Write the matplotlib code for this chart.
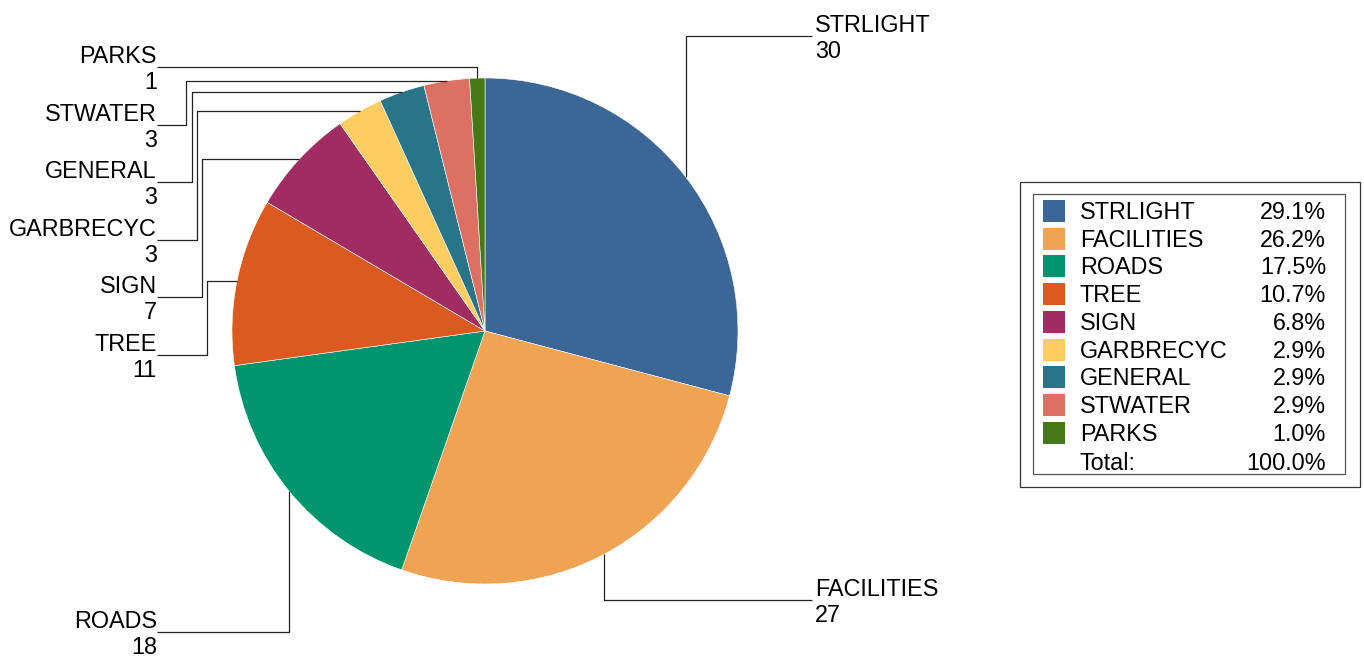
import numpy as np
import matplotlib
matplotlib.use("Agg")
import matplotlib.pyplot as plt
from matplotlib.patches import Rectangle

plt.rcParams['font.family'] = ['Liberation Sans', 'DejaVu Sans']

# data
categories = ["STRLIGHT", "FACILITIES", "ROADS", "TREE", "SIGN",
              "GARBRECYC", "GENERAL", "STWATER", "PARKS"]
counts = [30, 27, 18, 11, 7, 3, 3, 3, 1]
colors = ["#3B6698", "#EFA353", "#00956F", "#DC5A1F", "#A12C61",
          "#FDCD61", "#287589", "#DC7063", "#457916"]

# label layout (pixel coords, y down): side, line y, elbow x
label_side = ["R", "R", "L", "L", "L", "L", "L", "L", "L"]
label_y = [36, 600, 632, 355, 297, 240, 182, 125, 67]
elbow_x = [None, None, None, 207, 202, 197, 192, 186, None]

W, H = 1364, 661
fig = plt.figure(figsize=(W / 100, H / 100), dpi=100)
ax = fig.add_axes([0, 0, 1, 1])

cx, cy, r = 485, 331, 253
total = sum(counts)

# inverted y axis -> counterclock in data == clockwise on screen
ax.pie(counts, colors=colors, startangle=-90, counterclock=True,
       radius=r, center=(cx, cy), frame=True,
       wedgeprops=dict(edgecolor="white", linewidth=0.4))
ax.set_xlim(0, W)
ax.set_ylim(H, 0)
ax.set_aspect("auto")
ax.axis("off")

fs = 16.8
line_kw = dict(color="#222222", lw=0.9, solid_capstyle="butt")

cum = 0
for name, val, side, ly, ex in zip(categories, counts, label_side, label_y, elbow_x):
    mid = (cum + val / 2) / total * 2 * np.pi
    cum += val
    px = cx + r * np.sin(mid)
    py = cy - r * np.cos(mid)
    if side == "L":
        tx = 157
        if ex is None:
            xs = [tx, px, px]
            ys = [ly, ly, py]
        else:
            xs = [tx, ex, ex, px]
            ys = [ly, ly, py, py]
        ax.plot(xs, ys, **line_kw)
        ax.text(tx, ly - 4, name, ha="right", va="baseline", fontsize=fs)
        ax.text(tx, ly + 22, str(val), ha="right", va="baseline", fontsize=fs)
    else:
        tx = 812
        ax.plot([px, px, tx], [py, ly, ly], **line_kw)
        ax.text(tx + 3, ly - 4, name, ha="left", va="baseline", fontsize=fs)
        ax.text(tx + 3, ly + 22, str(val), ha="left", va="baseline", fontsize=fs)

# legend box (double frame)
ax.add_patch(Rectangle((1020, 182), 340, 305, fill=False, ec="#333333", lw=0.9))
ax.add_patch(Rectangle((1033, 194), 312, 280, fill=False, ec="#555555", lw=0.9))

row0, step = 211, 27.7
for i, (name, val, c) in enumerate(zip(categories, counts, colors)):
    y = row0 + i * step
    ax.add_patch(Rectangle((1043, y - 11), 22, 22, color=c, lw=0))
    ax.text(1080, y + 8, name, ha="left", va="baseline", fontsize=fs)
    ax.text(1326, y + 8, f"{val / total * 100:.1f}%", ha="right", va="baseline", fontsize=fs)
y = row0 + len(categories) * step + 2
ax.text(1080, y + 8, "Total:", ha="left", va="baseline", fontsize=fs)
ax.text(1326, y + 8, "100.0%", ha="right", va="baseline", fontsize=fs)

fig.savefig("out.png", dpi=100)
